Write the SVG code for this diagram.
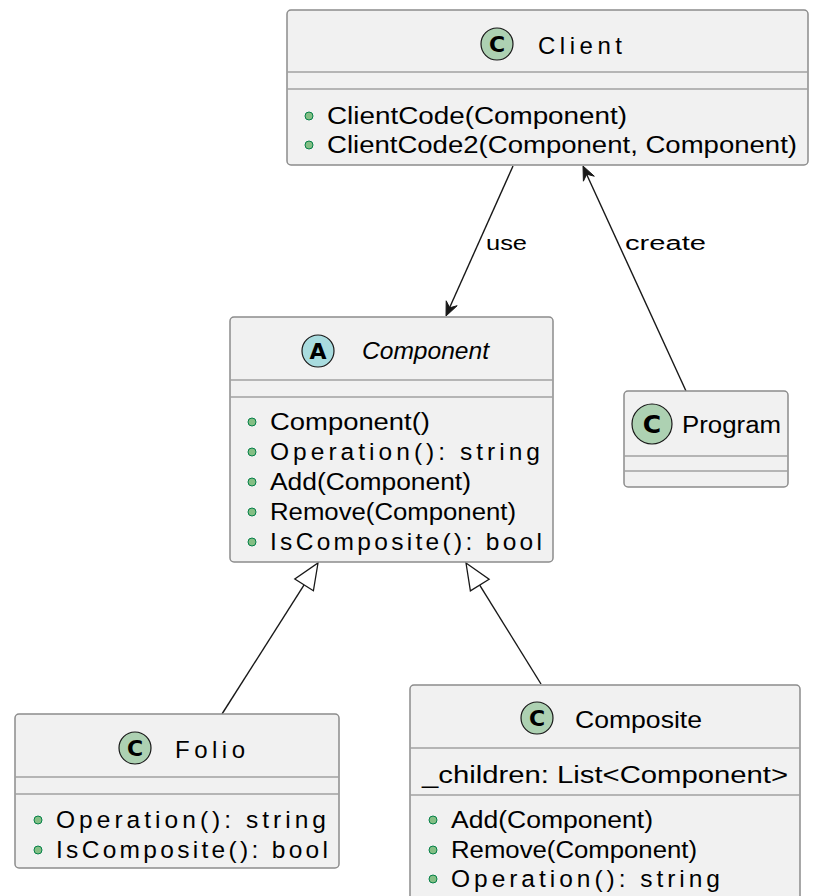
<svg xmlns="http://www.w3.org/2000/svg" width="824" height="896" viewBox="0 0 824 896">
  <style>
    .box { fill: #F1F1F1; stroke: #8C8C8C; stroke-width: 1.5; }
    .sep { stroke: #A0A0A0; stroke-width: 1.5; fill: none; }
    .txt { font-family: "Liberation Sans", Arial, sans-serif; font-size: 23px; fill: #000; }
    .wide { font-size: 24.5px; }
    .title { font-family: "Liberation Sans", Arial, sans-serif; font-size: 24px; fill: #000; }
    .ital { font-style: italic; }
    .lbl { font-family: "Liberation Sans", Arial, sans-serif; font-size: 20px; fill: #000; }
    .dot { fill: #84BE84; stroke: #038048; stroke-width: 1; }
    .spotC { fill: #ADD1B2; stroke: #181818; stroke-width: 1.2; }
    .spotA { fill: #A9DCDF; stroke: #181818; stroke-width: 1.2; }
    .glyph { font-family: "DejaVu Sans", "Liberation Sans", sans-serif; font-weight: bold; font-size: 22px; fill: #000; text-anchor: middle; }
    .edge { stroke: #181818; stroke-width: 1.4; fill: none; }
    .head { fill: #181818; stroke: #181818; stroke-width: 1; }
    .tri { fill: #FFFFFF; stroke: #181818; stroke-width: 1.3; }
  </style>
  <rect width="824" height="896" fill="#FFFFFF"/>

  <!-- connectors -->
  <g id="connectors">
    <!-- Client uses Component -->
    <line class="edge" x1="513" y1="166" x2="449" y2="309"/>
    <polygon class="head" points="446,316 457.2,305.7 449.7,307.8 446.2,300.8"/>
    <text class="lbl" x="486" y="250" textLength="41" lengthAdjust="spacingAndGlyphs">use</text>

    <!-- Program creates Client -->
    <line class="edge" x1="686" y1="391" x2="586" y2="173"/>
    <polygon class="head" points="583,166 594.3,176.2 586.7,174.2 583.4,181.2"/>
    <text class="lbl" x="625" y="250" textLength="81" lengthAdjust="spacingAndGlyphs">create</text>

    <!-- Folio extends Component -->
    <line class="edge" x1="222" y1="714" x2="304.1" y2="584.9"/>
    <polygon class="tri" points="318,563 313.4,590.8 294.8,579.0"/>

    <!-- Composite extends Component -->
    <line class="edge" x1="541" y1="684" x2="479.7" y2="585.1"/>
    <polygon class="tri" points="466,563 489.1,579.3 470.4,590.9"/>
  </g>

  <!-- Client -->
  <g id="client">
    <rect class="box" x="287" y="10" width="521" height="155" rx="4"/>
    <circle class="spotC" cx="497" cy="44" r="16"/>
    <text class="glyph" x="497" y="52">C</text>
    <text class="title" x="538" y="54" textLength="84" lengthAdjust="spacing">Client</text>
    <line class="sep" x1="287" y1="72" x2="808" y2="72"/>
    <line class="sep" x1="287" y1="89" x2="808" y2="89"/>
    <circle class="dot" cx="309" cy="116" r="4"/>
    <text class="txt" x="327" y="124" textLength="300" lengthAdjust="spacingAndGlyphs">ClientCode(Component)</text>
    <circle class="dot" cx="309" cy="145" r="4"/>
    <text class="txt" x="327" y="153" textLength="470" lengthAdjust="spacingAndGlyphs">ClientCode2(Component, Component)</text>
  </g>

  <!-- Component (abstract) -->
  <g id="component">
    <rect class="box" x="230" y="317" width="323" height="245" rx="4"/>
    <circle class="spotA" cx="318" cy="351" r="16"/>
    <text class="glyph" x="318" y="359">A</text>
    <text class="title ital" x="362" y="359" textLength="127" lengthAdjust="spacingAndGlyphs">Component</text>
    <line class="sep" x1="230" y1="380" x2="553" y2="380"/>
    <line class="sep" x1="230" y1="397" x2="553" y2="397"/>
    <circle class="dot" cx="252" cy="422" r="4"/>
    <text class="txt" x="270" y="430" textLength="160" lengthAdjust="spacingAndGlyphs">Component()</text>
    <circle class="dot" cx="252" cy="452" r="4"/>
    <text class="txt wide" x="270" y="460" textLength="270" lengthAdjust="spacing">Operation(): string</text>
    <circle class="dot" cx="252" cy="482" r="4"/>
    <text class="txt" x="270" y="490" textLength="201" lengthAdjust="spacingAndGlyphs">Add(Component)</text>
    <circle class="dot" cx="252" cy="512" r="4"/>
    <text class="txt" x="270" y="520" textLength="246" lengthAdjust="spacingAndGlyphs">Remove(Component)</text>
    <circle class="dot" cx="252" cy="542" r="4"/>
    <text class="txt wide" x="270" y="550" textLength="272" lengthAdjust="spacing">IsComposite(): bool</text>
  </g>

  <!-- Program -->
  <g id="program">
    <rect class="box" x="624" y="391" width="164" height="96" rx="4"/>
    <circle class="spotC" cx="652" cy="424" r="20"/>
    <text class="glyph" x="652" y="433" style="font-size:25px">C</text>
    <text class="txt" x="682" y="433" textLength="99" lengthAdjust="spacingAndGlyphs">Program</text>
    <line class="sep" x1="624" y1="456" x2="788" y2="456"/>
    <line class="sep" x1="624" y1="471" x2="788" y2="471"/>
  </g>

  <!-- Folio -->
  <g id="folio">
    <rect class="box" x="15" y="714" width="324" height="154" rx="4"/>
    <circle class="spotC" cx="135" cy="748" r="16"/>
    <text class="glyph" x="135" y="756">C</text>
    <text class="title" x="175" y="758" textLength="70" lengthAdjust="spacing">Folio</text>
    <line class="sep" x1="15" y1="777" x2="339" y2="777"/>
    <line class="sep" x1="15" y1="794" x2="339" y2="794"/>
    <circle class="dot" cx="38" cy="820" r="4"/>
    <text class="txt wide" x="56" y="828" textLength="270" lengthAdjust="spacing">Operation(): string</text>
    <circle class="dot" cx="38" cy="850" r="4"/>
    <text class="txt wide" x="56" y="858" textLength="272" lengthAdjust="spacing">IsComposite(): bool</text>
  </g>

  <!-- Composite -->
  <g id="composite">
    <rect class="box" x="410" y="685" width="390" height="230" rx="4"/>
    <circle class="spotC" cx="537" cy="718" r="16"/>
    <text class="glyph" x="537" y="726">C</text>
    <text class="title" x="575" y="728" textLength="127" lengthAdjust="spacingAndGlyphs">Composite</text>
    <line class="sep" x1="410" y1="748" x2="800" y2="748"/>
    <text class="txt" x="422" y="783" textLength="366" lengthAdjust="spacingAndGlyphs">_children: List&lt;Component&gt;</text>
    <line class="sep" x1="410" y1="795" x2="800" y2="795"/>
    <circle class="dot" cx="433" cy="820" r="4"/>
    <text class="txt" x="451" y="828" textLength="202" lengthAdjust="spacingAndGlyphs">Add(Component)</text>
    <circle class="dot" cx="433" cy="850" r="4"/>
    <text class="txt" x="451" y="858" textLength="246" lengthAdjust="spacingAndGlyphs">Remove(Component)</text>
    <circle class="dot" cx="433" cy="879" r="4"/>
    <text class="txt wide" x="451" y="887" textLength="269" lengthAdjust="spacing">Operation(): string</text>
  </g>
</svg>
